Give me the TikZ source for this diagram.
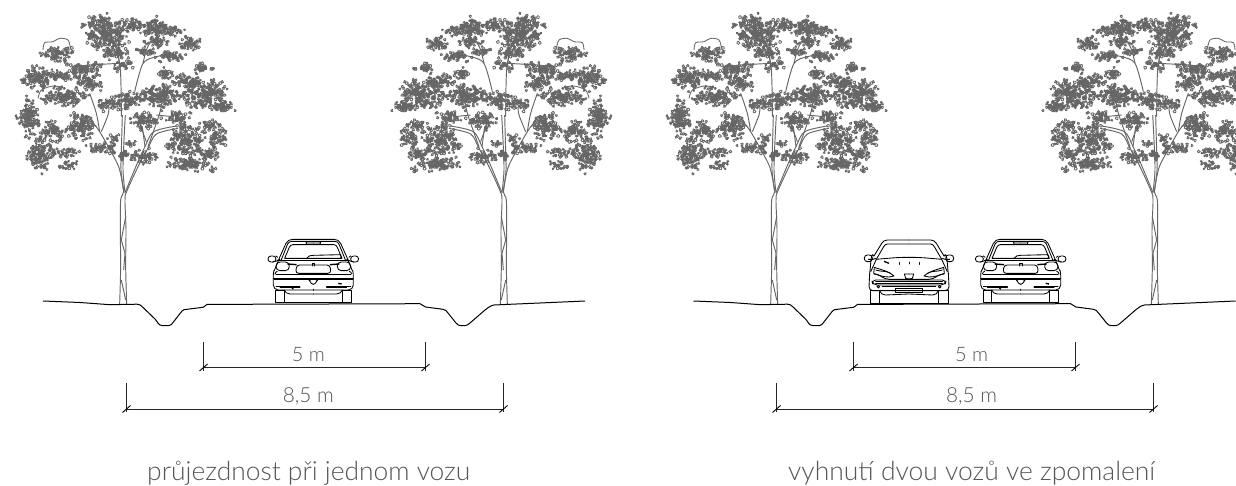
\documentclass[tikz,border=0pt]{standalone}
\usepackage{graphicx}
\usepackage{fontspec}
\setmainfont{Lato}
\newfontfamily\lightfont{Lato Light}
\definecolor{treegray}{HTML}{666666}
\definecolor{textgray}{HTML}{555555}
\tikzset{
  ground/.style={black,line width=1pt,line join=round},
  carline/.style={black,line width=0.85pt,line join=round,line cap=round},
  dimline/.style={black!85,line width=1pt},
  dimtext/.style={text=textgray,font=\lightfont\fontsize{20.5}{24}\selectfont,inner sep=0pt},
  captiontext/.style={text=textgray,font=\lightfont\fontsize{26}{30}\selectfont,inner sep=0pt,anchor=base west},
  twig/.style={treegray,line width=0.95pt,line join=round},
  leaf/.style={treegray,line width=0.85pt},
}
\newcommand\FolBlob[4]{%
  \pgfmathtruncatemacro\nn{max(6,#3*#4/11)}%
  \foreach \i in {1,...,\nn}{%
    \pgfmathsetmacro\ang{rnd*360}%
    \pgfmathsetmacro\rr{rnd^0.75}%
    \pgfmathsetmacro\wob{1+0.22*sin(4*\ang+#1)}%
    \pgfmathsetmacro\px{#1+1.08*#3*\rr*\wob*cos(\ang)}%
    \pgfmathsetmacro\py{#2+1.08*#4*\rr*\wob*sin(\ang)}%
    \pgfmathsetmacro\sa{rnd*360}%
    \pgfmathsetmacro\sb{\sa+95}%
    \pgfmathsetmacro\sr{11+rnd*9}%
    \draw[leaf] (\px,\py) .. controls +(\sa:\sr) and +(\sb:\sr) .. (\px,\py);%
  }%
}
\newcommand\TreeAt[2]{%
\begin{scope}[shift={(#1,304)},x=#2pt,y=-0.3333pt,shift={(-370,-912)}]
  \pgfmathsetseed{4242}
  % trunk
  \draw[twig] plot[smooth] coordinates {(360,912)(363,800)(362,700)(363,600)(372,575)(360,510)(345,475)(300,395)(275,362)};
  \draw[twig] plot[smooth] coordinates {(381,912)(378,800)(379,690)(376,600)(382,572)(420,490)(445,445)(470,402)(535,385)};
  \draw[twig] plot[smooth] coordinates {(376,578)(415,485)(436,440)(462,395)(530,378)};
  \draw[twig] plot[smooth] coordinates {(372,575)(364,510)(366,420)(368,345)};
  \draw[twig] plot[smooth] coordinates {(376,578)(370,510)(373,420)(377,345)};
  \draw[twig] (365,840)--(378,900);
  \draw[twig] (378,650)--(365,720)--(376,760)--(372,810);
  % limbs
  \foreach \pts in {
    {(300,395)(290,340)(270,280)},
    {(305,395)(325,345)(328,320)},
    {(290,380)(240,355)},
    {(365,350)(362,210)(345,130)(320,105)},
    {(362,210)(355,150)(360,90)},
    {(445,440)(480,340)(487,300)},
    {(436,440)(428,380)},
    {(440,425)(420,370)},
    {(405,275)(430,190)(470,170)(505,165)},
    {(430,190)(440,150)(455,120)},
    {(358,190)(270,195)(225,200)},
    {(378,330)(400,300)},
    {(470,345)(520,350)}}
    {\draw[twig] plot[smooth] coordinates \pts;}
  % foliage
  \FolBlob{315}{100}{62}{40}\FolBlob{305}{62}{32}{16}\FolBlob{395}{75}{32}{18}
  \FolBlob{462}{85}{40}{28}\FolBlob{515}{92}{34}{12}\FolBlob{572}{132}{30}{20}
  \FolBlob{345}{155}{40}{18}\FolBlob{368}{196}{32}{12}\FolBlob{512}{170}{34}{18}
  \FolBlob{497}{222}{26}{14}\FolBlob{430}{155}{27}{12}\FolBlob{470}{125}{32}{16}
  \FolBlob{175}{160}{44}{20}\FolBlob{112}{235}{42}{32}\FolBlob{180}{226}{52}{12}
  \FolBlob{250}{205}{52}{16}\FolBlob{268}{248}{40}{22}\FolBlob{195}{292}{60}{26}
  \FolBlob{88}{352}{30}{50}\FolBlob{162}{395}{36}{26}\FolBlob{245}{380}{34}{38}
  \FolBlob{122}{462}{34}{50}\FolBlob{200}{458}{30}{13}\FolBlob{203}{495}{26}{11}
  \FolBlob{305}{445}{40}{14}\FolBlob{345}{420}{15}{14}\FolBlob{366}{462}{22}{13}
  \FolBlob{432}{470}{36}{18}\FolBlob{392}{430}{14}{8}\FolBlob{390}{298}{32}{22}
  \FolBlob{330}{312}{40}{16}\FolBlob{480}{290}{62}{32}\FolBlob{435}{360}{40}{22}
  \FolBlob{535}{350}{30}{18}\FolBlob{620}{282}{60}{46}\FolBlob{612}{205}{30}{13}
  \FolBlob{560}{245}{40}{18}\FolBlob{670}{322}{32}{13}\FolBlob{560}{420}{50}{46}
  \FolBlob{632}{375}{30}{13}\FolBlob{655}{415}{26}{24}\FolBlob{565}{492}{60}{17}
  \FolBlob{625}{460}{32}{18}\FolBlob{640}{508}{10}{7}
  % outlined leaf edge, upper left
  \draw[leaf] plot[smooth] coordinates {(130,150)(135,128)(160,125)(180,115)(205,120)(215,150)(225,152)};
  \draw[leaf] plot[smooth] coordinates {(115,295)(125,270)(160,258)(190,262)};
\end{scope}}
\newcommand\GroundAt[1]{%
\begin{scope}[xshift=#1pt]
  \draw[ground] (43,301)--(80,302.5)--(110,304.7)--(137,304.2) to[out=0,in=135] (142,306.5)--(155,319) to[out=-45,in=180] (162,325.5)--(169,325.5) to[out=0,in=-125] (173,322.5)--(182,311) to[out=55,in=190] (187,309.3)--(203,307.3) to[out=10,in=200] (207,304.4)--(420,303.7) to[out=-10,in=170] (425.5,307)--(443,309.3) to[out=-10,in=125] (448,313)--(456,323) to[out=-50,in=180] (461,325.7)--(465,325.7) to[out=0,in=215] (470,323)--(485,310) to[out=35,in=190] (494,305)--(505,304.5)--(540,303)--(585,301);
\end{scope}}
\newcommand\DimAt[1]{%
\begin{scope}[xshift=#1pt]
  \coordinate (a1) at (203.5,342); \coordinate (a2) at (203.5,367.5);
  \coordinate (b1) at (425.5,342); \coordinate (b2) at (425.5,367.5);
  \coordinate (c1) at (126.5,383); \coordinate (c2) at (126.5,409);
  \coordinate (d1) at (503.5,383); \coordinate (d2) at (503.5,409);
  \draw[dimline] (a1)--([yshift=-3pt]a2) (b1)--([yshift=-3pt]b2) (c1)--([yshift=-3pt]c2) (d1)--([yshift=-3pt]d2);
  \draw[dimline] (a2)--(b2) (c2)--(d2);
  \foreach \p in {a2,b2,c2,d2}
    \draw[black,line width=0.9pt] ([shift={(-4,3.5)}]\p)--([shift={(4,-3.5)}]\p);
\end{scope}}
\newcommand\CarRear[1]{%
\begin{scope}[shift={(#1,230)},x=0.3333pt,y=-0.3333pt]
 \foreach \sx in {1,-1}{
 \begin{scope}[xscale=\sx]
  \draw[carline] (87,180) rectangle (113,218);
  \draw[carline] (0,28)--(62,28) to[out=0,in=120] (82,40)--(100,80)--(117,122) to[out=80,in=90] (120,135)--(120,165) to[out=-90,in=0] (105,180)--(0,180);
  \draw[carline] (0,34)--(65,34) to[out=0,in=125] (77,42)--(97,92);
  \draw[carline] (0,44)--(62,44) to[out=0,in=120] (72,52)--(86,85)--(0,85);
  \draw[carline] (0,90)--(105,90);
  \draw[carline] (0,36)--(22,36)--(20,42)--(0,42);
  \draw[carline] (100,88) to[out=20,in=180] (110,93)--(122,96) (107,82)--(112,78);
  \draw[carline,rounded corners=3pt] (112,78) rectangle (136,96);
  \draw[carline,rounded corners=4pt] (72,96) rectangle (112,122);
  \draw[line width=1.4pt] (50,104)--(78,102);
  \draw[carline,rounded corners=3pt] (0,105)--(50,105)--(53,130)--(0,130);
  \draw[carline] (0,132)--(112,132) (0,145)--(120,145) (0,149)--(118,149);
  \draw[carline] (108,124) to[out=-10,in=110] (115,132);
  \draw[carline] (40,168)--(112,168) (0,180)--(0,178) (40,172)--(100,172);
  \draw[carline] (0,192)--(70,192) to[out=10,in=-100] (87,180);
  \draw[carline] (87,218)--(0,218);
  \draw[carline] (8,150)--(13,150)--(6,160)--(0,163);
  \draw[carline] (0,100)--(4,100)--(4,108);
 \end{scope}}
 \draw[carline] (-20,85) to[out=60,in=180] (0,76)--(80,74) to[out=-10,in=10] (82,84);
 \draw[line width=1.2pt] (-65,172)--(-60,178) (-72,170)--(-62,172);
 \draw[line width=1.4pt] (75,160)--(85,162);
 \draw[carline] (-80,172)--(-60,172);
\end{scope}}
\newcommand\CarFront[1]{%
\begin{scope}[shift={(#1,230)},x=0.3333pt,y=-0.3333pt]
 \foreach \sx in {1,-1}{
 \begin{scope}[xscale=\sx]
  \draw[carline] (88,180) rectangle (117,220);
  \draw[carline] (0,30)--(65,30) to[out=0,in=125] (82,40)--(105,78) to[out=60,in=100] (118,130)--(120,170) to[out=-90,in=0] (108,182)--(0,182);
  \draw[carline] (0,42)--(65,42) to[out=0,in=125] (76,50)--(98,88) to[out=175,in=0] (0,82);
  \draw[carline] (100,85) to[out=20,in=180] (108,88)--(122,88) (105,78)--(110,75);
  \draw[carline,rounded corners=3pt] (110,75) rectangle (134,95);
  \draw[carline] (98,88)--(115,125);
  \draw[carline] (45,138) to[out=40,in=200] (104,112)--(106,130) to[out=200,in=0] (60,141)--(45,138);
  \draw[carline] (55,130) to[out=30,in=200] (100,120);
  \draw[carline] (105,132) to[out=180,in=0] (60,148)--(0,148);
  \draw[carline,rounded corners=4pt] (0,150)--(112,150)--(108,165)--(0,165);
  \draw[carline] (0,132)--(14,132)--(10,145)--(0,147);
  \draw[carline] (0,155)--(100,155) (0,160)--(100,160);
  \draw[carline] (92,170) circle[radius=4];
  \draw[carline] (0,170)--(80,170);
  \draw[carline] (0,176)--(40,176)--(40,188)--(0,188);
  \draw[carline] (0,192)--(70,195) to[out=0,in=-100] (88,182);
  \draw[carline] (88,220)--(0,220);
  \draw[carline] (30,98)--(30,103);
 \end{scope}}
 \draw[line width=1.3pt] (-75,94)--(-60,100);
 \draw[carline] (0,96)--(0,102);
\end{scope}}
\begin{document}
\begin{tikzpicture}[x=1pt,y=-1pt]
  \useasboundingbox (0,0) rectangle (1236,486);
  \clip (0,0) rectangle (1236,486);
  \fill[white] (0,0) rectangle (1236,486);
  \TreeAt{123}{0.3333}
  \TreeAt{504}{-0.3333}
  \TreeAt{774}{0.3333}
  \TreeAt{1155}{-0.3333}
  \GroundAt{0}
  \GroundAt{650.5}
  \CarRear{313.3}
  \CarFront{909}
  \CarRear{1020.7}
  \DimAt{0}
  \DimAt{650}
  \node[dimtext] (l5a) at (308.3,355) {\resizebox{33pt}{!}{5 m}};
  \node[dimtext] (l85a) at (308.3,396) {\resizebox{51pt}{!}{8,5 m}};
  \node[dimtext] (l5b) at (971.6,355) {\resizebox{33pt}{!}{5 m}};
  \node[dimtext] (l85b) at (971.6,396) {\resizebox{51pt}{!}{8,5 m}};
  \node[captiontext] (capa) at (147,480) {\resizebox{323pt}{!}{průjezdnost při jednom vozu}};
  \node[captiontext] (capb) at (788,480) {\resizebox{367pt}{!}{vyhnutí dvou vozů ve zpomalení}};
\end{tikzpicture}
\end{document}
